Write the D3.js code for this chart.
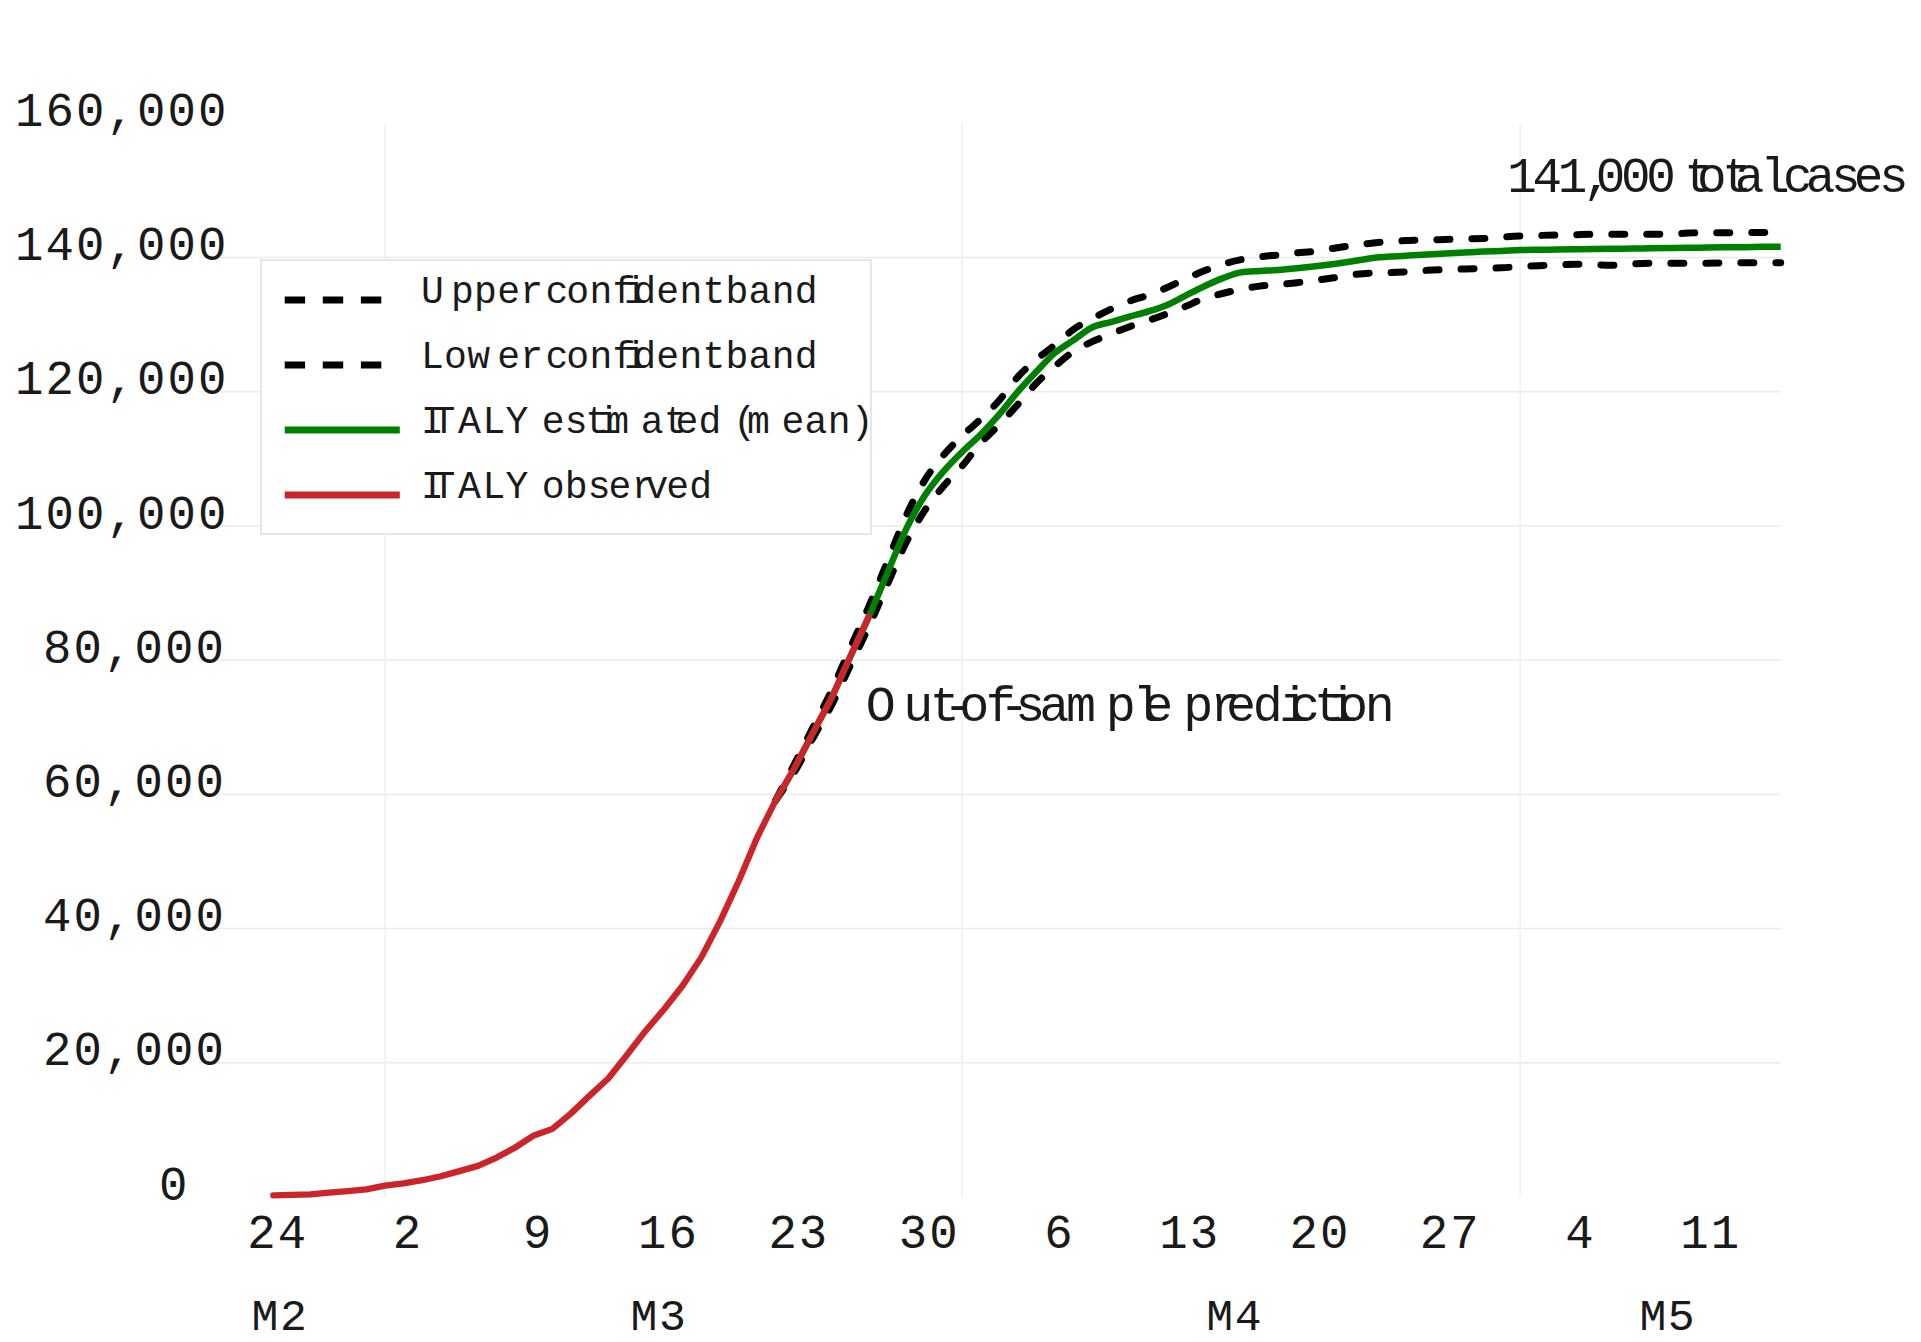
<!DOCTYPE html>
<html>
<head>
<meta charset="utf-8">
<script src="https://cdn.jsdelivr.net/npm/d3@7"></script>
<style>
  html, body { margin: 0; padding: 0; background: #ffffff; }
  svg text { white-space: pre; }
</style>
</head>
<body>
<svg id="chart" width="1921" height="1342"></svg>
<script>
// ---- data -------------------------------------------------------------
// first day of the series; every series below is one value per day
const startDay = "2020-02-24";
const endDay = "2020-05-15";

// ITALY observed cumulative cases, one value per day from Feb 24
const observed = [
  230, 320, 400, 650, 890, 1130, 1690, 2040, 2500, 3090,
  3860, 4640, 5880, 7380, 9170, 10150, 12460, 15110, 17660, 21160,
  24750, 27980, 31510, 35710, 41040, 47020, 53580, 59140, 63930, 69180,
  74390, 80540, 86500
];

// model output starts on this day offset (Mar 22)
const estimateStartOffset = 27;

// ITALY estimated (mean), Mar 22 .. May 15
const estimatedMean = [
  59140, 63900, 69200, 74400, 80500, 86500, 93000, 99500, 104500, 108100,
  111000, 113600, 116600, 120000, 123000, 125800, 127700, 129600, 130400, 131200,
  131950, 132900, 134300, 135700, 136900, 137800, 138000, 138150, 138400, 138700,
  139050, 139450, 139900, 140150, 140300, 140450, 140600, 140750, 140900, 141000,
  141130, 141170, 141200, 141240, 141280, 141320, 141350, 141380, 141420, 141450,
  141490, 141530, 141560, 141600, 141620
];

// Upper confident band, Mar 22 .. May 15
const upperBand = [
  59140, 64500, 70000, 75500, 81800, 88000, 94700, 101500, 106800, 110500,
  113400, 115900, 118700, 122200, 124800, 127000, 129300, 130900, 132300, 133500,
  134400, 135500, 136800, 138000, 139000, 139700, 140100, 140400, 140700, 140950,
  141400, 141800, 142150, 142400, 142550, 142650, 142700, 142800, 142850, 143050,
  143220, 143300, 143370, 143420, 143470, 143470, 143470, 143470, 143500, 143650,
  143710, 143710, 143720, 143750, 143760
];

// Lower confident band, Mar 22 .. May 15
const lowerBand = [
  59140, 63300, 68400, 73300, 79200, 85000, 91300, 97500, 102300, 105900,
  108900, 112300, 115100, 118100, 121270, 123800, 126000, 127470, 128600, 129700,
  130600, 131600, 132700, 133900, 134650, 135300, 135750, 136000, 136260, 136600,
  137000, 137450, 137700, 137760, 137900, 138100, 138220, 138300, 138400, 138480,
  138650, 138800, 138900, 139000, 138950, 138850, 139050, 139150, 139150, 139150,
  139170, 139200, 139240, 139240, 139250
];

// axes
const yTicks = [0, 20000, 40000, 60000, 80000, 100000, 120000, 140000, 160000];
const yGridValues = [20000, 40000, 60000, 80000, 100000, 120000, 140000];
const xTickDays = ["2020-02-24", "2020-03-02", "2020-03-09", "2020-03-16", "2020-03-23", "2020-03-30",
                   "2020-04-06", "2020-04-13", "2020-04-20", "2020-04-27", "2020-05-04", "2020-05-11"];
const monthGridDays = ["2020-03-01", "2020-04-01", "2020-05-01"];
const monthNames = ["M2", "M3", "M4", "M5"];
const monthLabelTimes = ["2020-02-24T08:40", "2020-03-15T17:30", "2020-04-15T16:00", "2020-05-08T22:30"];

// legend and notes
const legendLabels = ["Upper confident band", "Lower confident band", "ITALY estimated (mean)", "ITALY observed"];
const predictionNote = "Out-of-sample prediction";
const totalNote = "141,000 total cases";
const totalNoteValue = 150000;
const predictionNoteValue = 71000;

// ---- drawing ------------------------------------------------------------
const MONO = '"Liberation Mono", "Courier New", monospace';
const PROP = '"Liberation Sans", Arial, sans-serif';
const RED = "#cc2529";
const GREEN = "#008000";
const INK = "#1a1a1a";

const svg = d3.select("#chart");
const parseDay = d3.utcParse("%Y-%m-%d");
const parseTime = d3.utcParse("%Y-%m-%dT%H:%M");
const t0 = parseDay(startDay);
const dayAt = i => d3.utcDay.offset(t0, i);

const x = d3.scaleUtc().domain([t0, parseDay(endDay)]).range([273.3, 1780.7]);
const y = d3.scaleLinear().domain([0, 160000]).range([1197, 123.4]);

// text measuring helpers: glyphs are laid out on proportional advances
const ctx = document.createElement("canvas").getContext("2d");
ctx.font = `100px ${MONO}`;
const capRatio = (ctx.measureText("H").actualBoundingBoxAscent || 66) / 100;
const monoSize = capHeight => capHeight / capRatio;

function proportionalText(parent, str, x0, baseline, advanceSize, capHeight) {
  ctx.font = `${advanceSize}px ${PROP}`;
  const xs = Array.from(str, (_, i) => (x0 + ctx.measureText(str.slice(0, i)).width).toFixed(2));
  return parent.append("text")
    .attr("x", xs.join(" "))
    .attr("y", baseline)
    .attr("fill", INK)
    .style("font-family", MONO)
    .style("font-size", monoSize(capHeight) + "px")
    .text(str);
}

// grid
const grid = svg.append("g").attr("class", "grid");
grid.selectAll("line.h").data(yGridValues).join("line")
  .attr("class", "h")
  .attr("x1", 199).attr("x2", x.range()[1])
  .attr("y1", d => y(d)).attr("y2", d => y(d))
  .attr("stroke", "#ebebeb").attr("stroke-width", 1.5);
grid.selectAll("line.v").data(monthGridDays.map(parseDay)).join("line")
  .attr("class", "v")
  .attr("x1", d => x(d)).attr("x2", d => x(d))
  .attr("y1", y(160000)).attr("y2", y(0))
  .attr("stroke", "#f0f0f0").attr("stroke-width", 1.5);

// y axis labels
const tickCap = 31.7;
const tickSize = monoSize(tickCap);
const tickSpacing = 30.5 - 0.6 * tickSize;
const yAxis = svg.append("g")
  .call(d3.axisLeft(y).tickValues(yTicks).tickFormat(d3.format(",")).tickSize(0));
yAxis.select(".domain").remove();
yAxis.selectAll("text")
  .attr("dy", null)
  .attr("y", 2)
  .attr("text-anchor", "start")
  .attr("x", d => {
    const s = d3.format(",")(d);
    const digits = s.replace(/\D/g, "").length;
    const commas = s.length - digits;
    return 187 - 28 * digits - 4 * commas;
  })
  .attr("fill", INK)
  .style("font-family", MONO)
  .style("font-size", tickSize + "px")
  .style("letter-spacing", tickSpacing + "px");

// x axis labels
const xAxis = svg.append("g")
  .attr("transform", `translate(0, 1248)`)
  .call(d3.axisBottom(x).tickValues(xTickDays.map(parseDay)).tickFormat(d3.utcFormat("%-d")).tickSize(0));
xAxis.select(".domain").remove();
xAxis.selectAll("text")
  .attr("dy", null)
  .attr("y", 0)
  .attr("x", 4)
  .attr("fill", INK)
  .style("font-family", MONO)
  .style("font-size", tickSize + "px")
  .style("letter-spacing", tickSpacing + "px");

svg.append("g").selectAll("text").data(monthNames).join("text")
  .attr("x", (d, i) => x(parseTime(monthLabelTimes[i])))
  .attr("y", 1330)
  .attr("text-anchor", "middle")
  .attr("fill", INK)
  .style("font-family", MONO)
  .style("font-size", monoSize(30) + "px")
  .style("letter-spacing", (28.5 - 0.6 * monoSize(30)) + "px")
  .text(d => d);

// series
const lineSmooth = d3.line().x(d => x(d.date)).y(d => y(d.value)).curve(d3.curveMonotoneX);
const lineStraight = d3.line().x(d => x(d.date)).y(d => y(d.value));
const estRows = arr => arr.map((v, i) => ({ date: dayAt(estimateStartOffset + i), value: v }));
const obsRows = observed.map((v, i) => ({ date: dayAt(i), value: v }));

const series = svg.append("g").attr("fill", "none");
[upperBand, lowerBand].forEach(band => {
  series.append("path")
    .attr("d", lineSmooth(estRows(band)))
    .attr("stroke", "#000")
    .attr("stroke-width", 7)
    .attr("stroke-linecap", "round")
    .attr("stroke-dasharray", "13,22");
});
series.append("path")
  .attr("d", lineSmooth(estRows(estimatedMean)))
  .attr("stroke", GREEN)
  .attr("stroke-width", 6.5)
  .attr("stroke-linejoin", "round");
series.append("path")
  .attr("d", lineStraight(obsRows))
  .attr("stroke", RED)
  .attr("stroke-width", 6.3)
  .attr("stroke-linejoin", "round")
  .attr("stroke-linecap", "round");

// legend
const legend = svg.append("g");
legend.append("rect")
  .attr("x", 261).attr("y", 260).attr("width", 610).attr("height", 274)
  .attr("fill", "#fff").attr("stroke", "#e6e6e6").attr("stroke-width", 2);
const legendStyles = [
  { stroke: "#000", dash: "20.4,17.7", x2: 381.4 },
  { stroke: "#000", dash: "20.4,17.7", x2: 381.4 },
  { stroke: GREEN, dash: null, x2: 399.8 },
  { stroke: RED, dash: null, x2: 399.8 }
];
legendLabels.forEach((label, i) => {
  const ly = 300 + i * 65;
  legend.append("line")
    .attr("x1", 284.7).attr("x2", legendStyles[i].x2)
    .attr("y1", ly).attr("y2", ly)
    .attr("stroke", legendStyles[i].stroke)
    .attr("stroke-width", 7)
    .attr("stroke-dasharray", legendStyles[i].dash);
  proportionalText(legend, label, 421, ly + 3, 41.5, 25.5);
});

// notes
proportionalText(svg, predictionNote, x(dayAt(observed.length - 1)) - 3, y(predictionNoteValue), 48, 33.5);
proportionalText(svg, totalNote, x(parseDay("2020-05-01")) - 13, y(totalNoteValue) + 1.5, 45.5, 33);
</script>
</body>
</html>
